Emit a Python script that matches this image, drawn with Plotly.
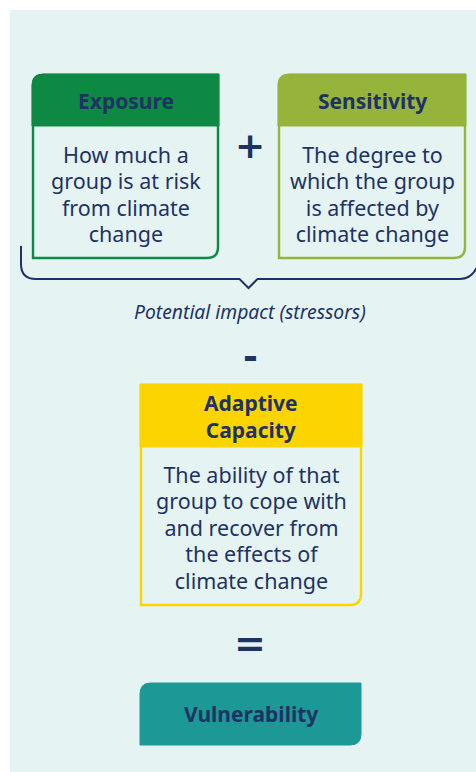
import plotly.graph_objects as go

# ---- content ----
box_titles = ["Exposure", "Sensitivity", "Adaptive<br>Capacity", "Vulnerability"]
box_texts = [
    ["How much a", "group is at risk", "from climate", "change"],
    ["The degree to", "which the group", "is affected by", "climate change"],
    ["The ability of that", "group to cope with", "and recover from", "the effects of", "climate change"],
    [],
]
box_colors = ["#0E8944", "#96B43B", "#FCD500", "#1C9896"]
operators = ["+", "-", "="]
brace_label = "Potential impact (stressors)"

# ---- layout constants ----
W, H = 476, 772
BG = "#E5F4F2"
NAVY = "#1E3264"
FONT = "Noto Sans"
BODY_SIZE = 21.5      # rendered glyph size
BODY_LEAD = 20.3      # base size -> line spacing 1.3 * 20.3 = 26.4 px
HEAD_SIZE = 21
HEAD_LEAD = 20.8

# box geometry: (x0, x1, y0, yheader, y1, top-left rounded)
boxes = [
    (32, 219, 74, 126, 259, True),
    (278, 466, 74, 126, 259, True),
    (140, 362, 384, 447, 606, False),
    (140, 361, 683, 745, 745, True),
]
R = 11

fig = go.Figure()
shapes = []
annotations = []

# background panel
shapes.append(dict(type="rect", x0=10, x1=W + 2, y0=10, y1=H + 2,
                   fillcolor=BG, line=dict(width=0), layer="below"))

def outline_path(x0, x1, y0, y1, tl):
    p = f"M{x0},{y0 + R} Q{x0},{y0} {x0 + R},{y0}" if tl else f"M{x0},{y0}"
    p += f" L{x1},{y0} L{x1},{y1 - R} Q{x1},{y1} {x1 - R},{y1} L{x0},{y1} Z"
    return p

def header_path(x0, x1, y0, yh, tl):
    p = f"M{x0},{yh} L{x0},{y0 + R} Q{x0},{y0} {x0 + R},{y0}" if tl else f"M{x0},{yh} L{x0},{y0}"
    p += f" L{x1},{y0} L{x1},{yh} Z"
    return p

def multiline(lines, size, bold=False):
    out = []
    for t in lines:
        s = f'<span style="font-size:{size}px">{t}</span>'
        out.append(f"<b>{s}</b>" if bold else s)
    return "<br>".join(out)

for i, (x0, x1, y0, yh, y1, tl) in enumerate(boxes):
    col = box_colors[i]
    cx = (x0 + x1) / 2
    if i == 3:
        shapes.append(dict(type="path", path=outline_path(x0, x1, y0, y1, tl),
                           fillcolor=col, line=dict(color=col, width=1)))
        annotations.append(dict(x=cx, y=(y0 + y1) / 2, text=f"<b>{box_titles[i]}</b>",
                                showarrow=False, font=dict(family=FONT, size=HEAD_SIZE, color=NAVY),
                                xanchor="center", yanchor="middle"))
        continue
    shapes.append(dict(type="path", path=header_path(x0, x1, y0, yh, tl),
                       fillcolor=col, line=dict(color=col, width=1)))
    shapes.append(dict(type="path", path=outline_path(x0 + 1, x1 - 1, y0 + 1, y1 - 1, tl),
                       fillcolor="rgba(0,0,0,0)", line=dict(color=col, width=2.4)))
    annotations.append(dict(x=cx, y=(y0 + yh) / 2 + 1,
                            text=multiline(box_titles[i].split("<br>"), HEAD_SIZE, bold=True),
                            showarrow=False, font=dict(family=FONT, size=HEAD_LEAD, color=NAVY),
                            xanchor="center", yanchor="middle"))
    annotations.append(dict(x=cx, y=(yh + y1) / 2 + 1,
                            text=multiline(box_texts[i], BODY_SIZE),
                            showarrow=False, font=dict(family=FONT, size=BODY_LEAD, color=NAVY),
                            xanchor="center", yanchor="middle"))

# brace under the first two boxes
bl, br, by, bt = 21, 476, 279, 246
nx, ny = 248.5, 288
brace = (f"M{bl},{bt} L{bl},{by - 15} Q{bl},{by} {bl + 15},{by} "
         f"L{nx - 9},{by} L{nx},{ny} L{nx + 9},{by} "
         f"L{br - 16},{by} Q{br - 4},{by} {br + 2},{by - 14}")
shapes.append(dict(type="path", path=brace, line=dict(color=NAVY, width=2)))

annotations.append(dict(x=250, y=311, text=f"<i>{brace_label}</i>", showarrow=False,
                        font=dict(family=FONT, size=19.3, color=NAVY),
                        xanchor="center", yanchor="middle"))

# operators
op_pos = [(250, 145), (250, 356), (250, 643)]
op_size = [36, 36, 38]
for (ox, oy), op, s in zip(op_pos, operators, op_size):
    annotations.append(dict(x=ox, y=oy, text=f"<b>{op}</b>", showarrow=False,
                            font=dict(family="DejaVu Sans", size=s, color=NAVY),
                            xanchor="center", yanchor="middle"))

fig.update_layout(
    width=W, height=H,
    margin=dict(l=0, r=0, t=0, b=0),
    paper_bgcolor="white", plot_bgcolor="white",
    xaxis=dict(range=[0, W], visible=False, fixedrange=True),
    yaxis=dict(range=[H, 0], visible=False, fixedrange=True),
    shapes=shapes, annotations=annotations, showlegend=False,
)
fig.write_html("out.html", config=dict(displayModeBar=False),
               post_script="document.body.style.margin='0';document.body.style.overflow='hidden';")
